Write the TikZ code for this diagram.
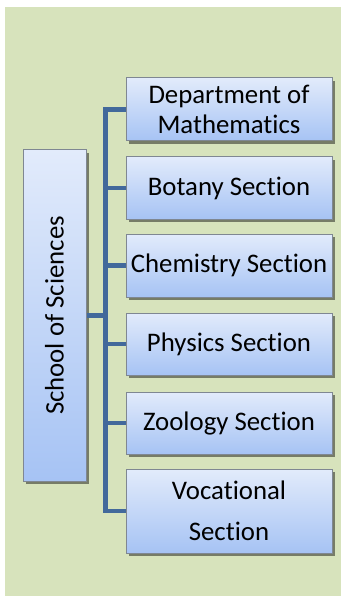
\documentclass[tikz,border=0pt]{standalone}
\usepackage{fontspec}
\setmainfont{Carlito}[Ligatures=NoCommon]
\usetikzlibrary{shadows}
\definecolor{bg}{HTML}{D7E3BC}
\definecolor{connc}{HTML}{42699B}
\definecolor{btop}{HTML}{E2EBFB}
\definecolor{bbot}{HTML}{A6C3F4}
\definecolor{bord}{HTML}{7F8792}
\begin{document}
\begin{tikzpicture}[x=1pt,y=-1pt,
  box/.style={draw=bord, line width=1pt, top color=btop, bottom color=bbot,
    align=center, inner sep=0pt, font=\fontsize{26.8}{30}\selectfont,
    drop shadow={shadow xshift=2.5pt, shadow yshift=-3pt, fill=black, opacity=0.45}},
  sub/.style={box, minimum width=206pt},
  link/.style={draw=connc, line width=4.5pt}]
\useasboundingbox (0,0) rectangle (341,596);
\fill[bg] (5,7) rectangle (341,596);
\node[box, minimum width=63pt, minimum height=331pt] (root) at (54.5,315.5) {};
\node[rotate=90, font=\fontsize{26.8}{30}\selectfont, inner sep=0pt] (roottext) at (root.center) {School of Sciences};
\node[sub, minimum height=63pt] (d1) at (229,109.5) {Department of\\Mathematics};
\node[sub, minimum height=62pt] (d2) at (229,188) {Botany Section};
\node[sub, minimum height=63pt] (d3) at (229,265.5) {Chemistry Section};
\node[sub, minimum height=62pt] (d4) at (229,344) {Physics Section};
\node[sub, minimum height=62pt] (d5) at (229,423) {Zoology Section};
\node[sub, minimum height=84pt, font=\fontsize{26.8}{41}\selectfont] (d6) at (229,511) {Vocational\\Section};
\coordinate (bus) at (105.5,0);
\draw[link] (d1.west) -- (bus |- d1.west) -- (bus |- d6.west) -- (d6.west);
\draw[link] (root.east) -- (bus |- root.east);
\foreach \n in {d2,d3,d4,d5} \draw[link] (\n.west) -- (bus |- \n.west);
\end{tikzpicture}
\end{document}
